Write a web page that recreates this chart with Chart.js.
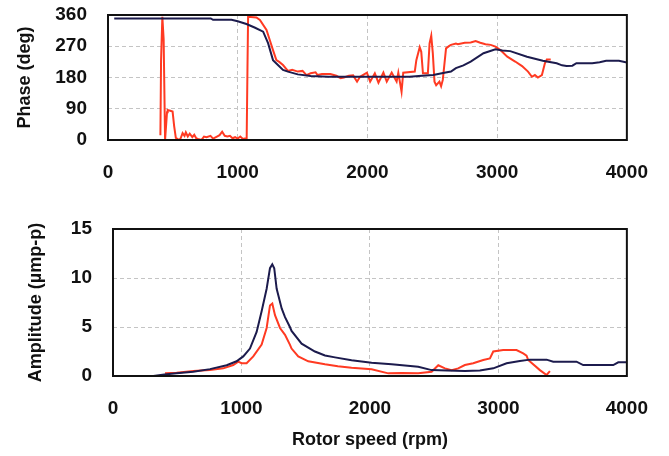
<!DOCTYPE html>
<html>
<head>
<meta charset="utf-8">
<script src="https://cdn.jsdelivr.net/npm/chart.js@4/dist/chart.umd.min.js"></script>
<style>
html,body{margin:0;padding:0;background:#fff;}
#wrap{position:relative;width:669px;height:456px;}
canvas{position:absolute;left:0;}
</style>
</head>
<body>
<div id="wrap">
<canvas id="c1" width="669" height="195" style="top:0"></canvas>
<canvas id="c2" width="669" height="261" style="top:195px"></canvas>
</div>
<script>
// ---- Data (rotor speed in rpm) ----
const phaseBlueRpm = [48,200,400,600,792,810,952,1000,1067,1130,1196,1234,1272,1310,1349,1387,1463,1562,1700,2000,2324,2420,2507,2583,2644,2682,2740,2796,2895,2987,3040,3101,3230,3352,3459,3500,3535,3580,3611,3733,3790,3840,3939,4000];
const phaseBlue    = [350,350,350,350,350,346,346,342,334,324,312,279,230,216,202,197,189,184,182,182,182,185,187,193,197,207,215,226,250,261,258,256,240,228,221,215,213,214,221,221,224,228,228,223];

const phaseRedRpm = [404,409,419,429,440,446,455,460,480,498,510,523,549,560,575,590,600,615,630,650,665,680,700,720,740,760,790,810,840,860,880,900,920,940,960,980,1000,1020,1040,1060,1069,1075,1080,1144,1171,1222,1247,1272,1298,1320,1349,1387,1420,1463,1500,1530,1562,1600,1615,1650,1714,1760,1794,1819,1857,1890,1920,1943,1996,2021,2057,2085,2123,2149,2187,2225,2238,2263,2276,2365,2377,2403,2415,2428,2466,2479,2492,2504,2517,2530,2555,2568,2581,2606,2631,2644,2682,2697,2750,2796,2834,2870,2910,2950,2987,3025,3078,3139,3192,3238,3268,3291,3314,3345,3368,3383,3413];
const phaseRed    = [14,228,355,290,0,0,80,86,84,82,40,6,0,5,20,12,22,10,18,8,15,5,2,0,10,8,12,4,10,14,24,12,10,12,5,8,4,10,3,5,2,200,355,353,346,317,288,259,230,225,216,199,202,197,199,187,192,195,187,190,190,185,178,180,185,186,168,182,194,168,192,165,194,168,194,168,194,139,194,197,230,267,254,192,192,278,300,250,168,158,168,155,173,264,271,274,278,276,280,281,285,280,276,274,269,259,240,226,213,197,182,187,180,187,221,232,232];

const ampBlueRpm = [50,314,400,495,625,755,885,962,1014,1066,1118,1157,1196,1222,1240,1255,1274,1313,1339,1377,1390,1468,1572,1650,1728,1857,2013,2169,2376,2480,2600,2739,2856,2960,3064,3167,3245,3375,3427,3608,3660,3894,3933,4000];
const ampBlue    = [0,0,0.15,0.27,0.44,0.7,1.1,1.5,2.0,2.8,4.5,6.6,8.9,11.0,11.4,11.0,8.9,6.9,6.0,5.0,4.6,3.3,2.5,2.1,1.9,1.6,1.36,1.2,0.95,0.6,0.55,0.5,0.55,0.78,1.3,1.53,1.67,1.67,1.46,1.46,1.12,1.12,1.4,1.4];

const ampRedRpm = [405,495,625,755,858,936,975,1001,1040,1092,1157,1196,1222,1240,1261,1300,1339,1377,1390,1442,1520,1650,1750,1857,2013,2143,2250,2376,2480,2532,2584,2636,2687,2739,2804,2882,2934,2960,3037,3141,3193,3219,3232,3323,3375,3401];
const ampRed    = [0.27,0.34,0.5,0.6,0.78,1.12,1.46,1.3,1.3,2.0,3.2,4.9,7.2,7.4,6.2,4.9,4.2,3.2,2.8,2.0,1.5,1.2,1.0,0.85,0.68,0.27,0.3,0.27,0.44,1.1,0.78,0.6,0.78,1.12,1.3,1.63,1.8,2.5,2.65,2.65,2.3,2.07,1.63,0.6,0.1,0.5];

const xTicks = [0,1000,2000,3000,4000];
const phaseTicks = [0,90,180,270,360];
const ampTicks = [0,5,10,15];

const NAVY = '#1c1b4d';
const RED = '#ff3a22';

function pts(xs, ys){ return xs.map((x,i)=>({x:x, y:ys[i]})); }

Chart.defaults.font.family = "'Liberation Sans', Arial, sans-serif";
Chart.defaults.font.weight = 'bold';
Chart.defaults.font.size = 18;
Chart.defaults.color = '#111';

const boxPlugin = {
  id:'box',
  afterDatasetsDraw(chart){
    const {ctx, chartArea:a} = chart;
    ctx.save();
    ctx.strokeStyle = '#111';
    ctx.lineWidth = 2;
    ctx.strokeRect(a.left, a.top, a.right-a.left, a.bottom-a.top);
    ctx.restore();
  }
};

function grid(){
  return {color:'#c4c4c4', lineWidth:1, drawTicks:false};
}

function makeChart(id, datasets, yTicks, yTitle, yTitlePad, xTitle, padding, yWidth, xHeight, yMax){
  return new Chart(document.getElementById(id), {
    type:'line',
    data:{datasets:datasets},
    options:{
      responsive:false, animation:false,
      layout:{padding:padding},
      plugins:{legend:{display:false}, tooltip:{enabled:false}},
      elements:{point:{radius:0}, line:{tension:0}},
      scales:{
        x:{type:'linear', min:0, max:4000,
           afterBuildTicks(s){ s.ticks = xTicks.map(v=>({value:v})); },
           afterFit(s){ s.height = xHeight; },
           grid:grid(),
           border:{display:false, dash:[4,3]},
           ticks:{padding:21, maxRotation:0, color:'#111', font:{size:19}, callback:v=>String(v)},
           title:{display:!!xTitle, text:xTitle||'', padding:{top:0,bottom:5}, color:'#111'}
        },
        y:{type:'linear', min:0, max:yMax,
           afterBuildTicks(s){ s.ticks = yTicks.map(v=>({value:v})); },
           afterFit(s){ s.width = yWidth; s.paddingTop = 10; s.paddingBottom = 10; },
           grid:grid(),
           border:{display:false, dash:[4,3]},
           ticks:{padding:21, color:'#111', font:{size:19}, callback:v=>String(v)},
           title:{display:true, text:yTitle, padding:{top:yTitlePad,bottom:0}, color:'#111'}
        }
      }
    },
    plugins:[boxPlugin]
  });
}

makeChart('c1', [
  {data:pts(phaseBlueRpm, phaseBlue), borderColor:NAVY, borderWidth:2},
  {data:pts(phaseRedRpm, phaseRed), borderColor:RED, borderWidth:2}
], phaseTicks, 'Phase (deg)', 14, null, {top:15,right:36,left:0,bottom:0}, 108, 55, 360);

makeChart('c2', [
  {data:pts(ampBlueRpm, ampBlue), borderColor:NAVY, borderWidth:2},
  {data:pts(ampRedRpm, ampRed), borderColor:RED, borderWidth:2}
], ampTicks, 'Amplitude (µmp-p)', 25, 'Rotor speed (rpm)', {top:34,right:42,left:0,bottom:0}, 113, 80, 15);
</script>
</body>
</html>
